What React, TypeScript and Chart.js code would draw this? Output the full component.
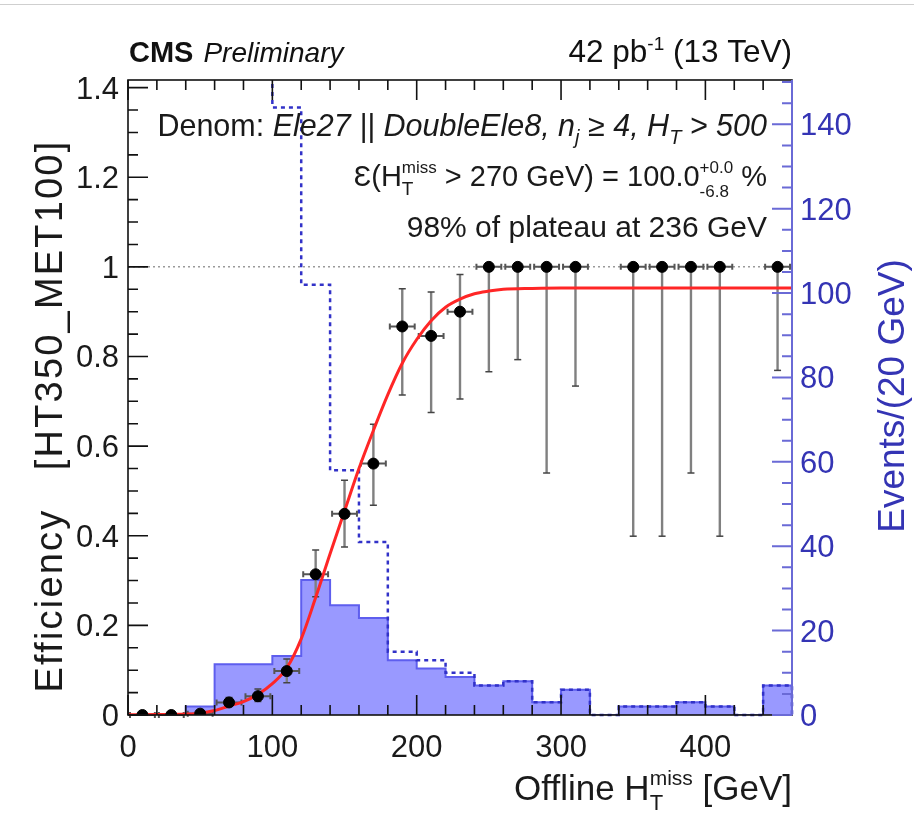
import React, { useEffect, useRef } from 'react';
import { Chart, registerables } from 'chart.js';

Chart.register(...registerables);

// ---------- data ----------
const binLowEdges = [0, 20, 40, 60, 80, 100, 120, 140, 160, 180, 200, 220, 240, 260, 280, 300, 320, 340, 360, 380, 400, 420, 440];
const binWidth = 20;
const xMax = 460;
// numerator (passing) events per bin – filled histogram
const passCounts = [0, 0, 2, 12, 12, 14, 32, 26, 23, 13, 11, 9, 7, 8, 3, 6, 0, 2, 2, 3, 2, 0, 7];
// denominator events per bin – dashed histogram (first bins run off the top)
const totalCounts = [640, 700, 600, 430, 286, 144, 102, 58, 41, 15, 13, 10, 7, 8, 3, 6, 0, 2, 2, 3, 2, 0, 7];
// efficiency per bin with asymmetric interval bounds (null = empty bin)
const effValues = [0, 0, 0.003, 0.028, 0.042, 0.098, 0.314, 0.449, 0.561, 0.867, 0.846, 0.9, 1, 1, 1, 1, null, 1, 1, 1, 1, null, 1];
const effLow = [0, 0, 0, 0.02, 0.03, 0.072, 0.264, 0.375, 0.468, 0.714, 0.675, 0.705, 0.766, 0.793, 0.54, 0.734, null, 0.399, 0.399, 0.54, 0.399, null, 0.769];
const effHigh = [0.004, 0.004, 0.008, 0.039, 0.058, 0.125, 0.368, 0.524, 0.649, 0.951, 0.944, 0.983, 1, 1, 1, 1, null, 1, 1, 1, 1, null, 1];
// fitted turn-on curve
const fitX = [0, 20, 40, 50, 60, 70, 80, 90, 100, 110, 120, 130, 140, 150, 160, 170, 180, 190, 200, 210, 220, 230, 240, 250, 260, 280, 300, 460];
const fitY = [0.0005, 0.001, 0.002, 0.004, 0.01, 0.02, 0.03, 0.046, 0.07, 0.105, 0.17, 0.262, 0.36, 0.455, 0.55, 0.635, 0.715, 0.785, 0.838, 0.88, 0.91, 0.928, 0.94, 0.946, 0.95, 0.952, 0.953, 0.953];

const leftMax = 1.417;
const rightMax = 150.5;
const leftTickValues = [0, 0.2, 0.4, 0.6, 0.8, 1, 1.2, 1.4];
const leftTickLabels = ['0', '0.2', '0.4', '0.6', '0.8', '1', '1.2', '1.4'];
const xTickValues = [0, 100, 200, 300, 400];
const xTickLabels = ['0', '100', '200', '300', '400'];
const rightTickValues = [0, 20, 40, 60, 80, 100, 120, 140];
const rightTickLabels = ['0', '20', '40', '60', '80', '100', '120', '140'];

// ---------- text ----------
const FONT = '"Liberation Sans", Arial, Helvetica, sans-serif';
type Seg = { t: string; size: number; style?: string; weight?: string; dy?: number; stack?: boolean; ls?: number };

const cmsText = 'CMS';
const prelimText = 'Preliminary';
const lumiSegs: Seg[] = [
  { t: '42 pb', size: 31.5 },
  { t: '-1', size: 19, dy: -12 },
  { t: ' (13 TeV)', size: 31.5 },
];
const denomSegs: Seg[] = [
  { t: 'Denom: ', size: 30.5 },
  { t: 'Ele27 || DoubleEle8, n', size: 30.5, style: 'italic' },
  { t: 'j', size: 20, style: 'italic', dy: 8 },
  { t: ' \u2265 4, H', size: 30.5, style: 'italic' },
  { t: 'T', size: 20, style: 'italic', dy: 8 },
  { t: ' > 500', size: 30.5, style: 'italic' },
];
const effSegs: Seg[] = [
  { t: '\u0190(H', size: 29 },
  { t: 'T', size: 19, dy: 9, stack: true },
  { t: 'miss', size: 17, dy: -13 },
  { t: ' > 270 GeV) = 100.0', size: 29 },
  { t: '+0.0', size: 17, dy: -13, stack: true },
  { t: '-6.8', size: 17, dy: 11 },
  { t: ' %', size: 29 },
];
const plateauSegs: Seg[] = [{ t: '98% of plateau at 236 GeV', size: 30 }];
const xTitleSegs: Seg[] = [
  { t: 'Offline H', size: 35 },
  { t: 'T', size: 22, dy: 10, stack: true },
  { t: 'miss', size: 21, dy: -15 },
  { t: ' [GeV]', size: 35 },
];
const yTitleSegs: Seg[] = [{ t: 'Efficiency   [HT350_MET100]', size: 38, ls: 2.2 }];
const y2TitleSegs: Seg[] = [{ t: 'Events/(20 GeV)', size: 37 }];

function fontOf(s: Seg) {
  return `${s.style || 'normal'} ${s.weight || 'normal'} ${s.size}px ${FONT}`;
}

function segWidth(ctx: CanvasRenderingContext2D, s: Seg) {
  ctx.font = fontOf(s);
  (ctx as any).letterSpacing = '0px';
  return ctx.measureText(s.t).width + (s.ls || 0) * s.t.length;
}

function drawRich(ctx: CanvasRenderingContext2D, segs: Seg[], x: number, y: number, align: string, color: string) {
  const placed: { s: Seg; x: number }[] = [];
  let cx = 0;
  for (let i = 0; i < segs.length; i++) {
    const s = segs[i];
    const w = segWidth(ctx, s);
    if (s.stack && i + 1 < segs.length) {
      const n = segs[i + 1];
      const w2 = segWidth(ctx, n);
      placed.push({ s, x: cx }, { s: n, x: cx });
      cx += Math.max(w, w2);
      i++;
    } else {
      placed.push({ s, x: cx });
      cx += w;
    }
  }
  const x0 = align === 'right' ? x - cx : align === 'center' ? x - cx / 2 : x;
  ctx.fillStyle = color;
  ctx.textAlign = 'left';
  ctx.textBaseline = 'alphabetic';
  for (const p of placed) {
    ctx.font = fontOf(p.s);
    (ctx as any).letterSpacing = `${p.s.ls || 0}px`;
    ctx.fillText(p.s.t, x0 + p.x, y + (p.s.dy || 0));
  }
  (ctx as any).letterSpacing = '0px';
}

// ---------- plugin: error bars, frame, axes, labels ----------
const rootStyle = {
  id: 'rootStyle',
  beforeDatasetDraw(chart: any, args: any) {
    if (args.index !== 3) return;
    const ctx: CanvasRenderingContext2D = chart.ctx;
    const xs = chart.scales.x;
    const ys = chart.scales.y;
    ctx.save();
    for (let i = 0; i < binLowEdges.length; i++) {
      const v = effValues[i];
      if (v === null) continue;
      const xc = xs.getPixelForValue(binLowEdges[i] + binWidth / 2);
      const xl = xs.getPixelForValue(binLowEdges[i]);
      const xr = xs.getPixelForValue(binLowEdges[i] + binWidth);
      const yv = ys.getPixelForValue(v);
      const yl = ys.getPixelForValue(effLow[i] as number);
      const yh = ys.getPixelForValue(effHigh[i] as number);
      ctx.strokeStyle = '#808080';
      ctx.lineWidth = 2.4;
      ctx.beginPath();
      ctx.moveTo(xc, yl);
      ctx.lineTo(xc, yh);
      ctx.stroke();
      ctx.strokeStyle = '#444';
      ctx.lineWidth = 1.5;
      ctx.beginPath();
      if (Math.abs(yl - yv) > 3) { ctx.moveTo(xc - 3.5, yl); ctx.lineTo(xc + 3.5, yl); }
      if (Math.abs(yh - yv) > 3) { ctx.moveTo(xc - 3.5, yh); ctx.lineTo(xc + 3.5, yh); }
      ctx.stroke();
      ctx.strokeStyle = '#555';
      ctx.lineWidth = 2;
      ctx.beginPath();
      ctx.moveTo(xl + 1, yv);
      ctx.lineTo(xr - 1, yv);
      ctx.moveTo(xl + 2, yv - 3);
      ctx.lineTo(xl + 2, yv + 3);
      ctx.moveTo(xr - 2, yv - 3);
      ctx.lineTo(xr - 2, yv + 3);
      ctx.stroke();
    }
    ctx.restore();
  },
  afterDraw(chart: any) {
    const ctx: CanvasRenderingContext2D = chart.ctx;
    const { left, right, top, bottom } = chart.chartArea;
    const xs = chart.scales.x;
    const ys = chart.scales.y;
    const y2 = chart.scales.y2;
    ctx.save();
    ctx.strokeStyle = '#cfcfcf';
    ctx.lineWidth = 1;
    ctx.beginPath();
    ctx.moveTo(0, 4.5);
    ctx.lineTo(914, 4.5);
    ctx.stroke();

    ctx.strokeStyle = '#111';
    ctx.lineWidth = 1.6;
    ctx.strokeRect(left, top, right - left, bottom - top);

    ctx.beginPath();
    for (let v = 0; v <= xMax; v += 20) {
      const px = xs.getPixelForValue(v);
      const len = v % 100 === 0 ? 20 : 10;
      ctx.moveTo(px, bottom);
      ctx.lineTo(px, bottom - len);
      ctx.moveTo(px, top);
      ctx.lineTo(px, top + len);
    }
    for (let k = 0; k <= 28; k++) {
      const v = k * 0.05;
      const py = ys.getPixelForValue(v);
      const len = k % 4 === 0 ? 20 : 10;
      ctx.moveTo(left, py);
      ctx.lineTo(left + len, py);
    }
    ctx.stroke();

    ctx.strokeStyle = '#6a6ad6';
    ctx.lineWidth = 2;
    ctx.beginPath();
    ctx.moveTo(right, top);
    ctx.lineTo(right, bottom);
    for (let v = 0; v <= 150; v += 5) {
      const py = y2.getPixelForValue(v);
      const len = v % 20 === 0 ? 20 : 10;
      ctx.moveTo(right, py);
      ctx.lineTo(right - len, py);
    }
    ctx.stroke();

    ctx.font = `31px ${FONT}`;
    ctx.fillStyle = '#1a1a1a';
    ctx.textBaseline = 'alphabetic';
    ctx.textAlign = 'right';
    leftTickValues.forEach((v, i) => {
      ctx.fillText(leftTickLabels[i], left - 9, ys.getPixelForValue(v) + 11);
    });
    ctx.textAlign = 'center';
    xTickValues.forEach((v, i) => {
      ctx.fillText(xTickLabels[i], xs.getPixelForValue(v), bottom + 42);
    });
    ctx.textAlign = 'left';
    ctx.fillStyle = '#3434b4';
    rightTickValues.forEach((v, i) => {
      ctx.fillText(rightTickLabels[i], right + 8, y2.getPixelForValue(v) + 11);
    });

    drawRich(ctx, xTitleSegs, right, bottom + 85, 'right', '#1a1a1a');
    ctx.save();
    ctx.translate(62, 416);
    ctx.rotate(-Math.PI / 2);
    drawRich(ctx, yTitleSegs, 0, 0, 'center', '#1a1a1a');
    ctx.restore();
    ctx.save();
    ctx.translate(904, 396);
    ctx.rotate(-Math.PI / 2);
    drawRich(ctx, y2TitleSegs, 0, 0, 'center', '#3434b4');
    ctx.restore();

    ctx.fillStyle = '#111';
    ctx.textAlign = 'left';
    ctx.font = `bold 29px ${FONT}`;
    ctx.fillText(cmsText, left + 1, 62);
    const cmsW = ctx.measureText(cmsText).width;
    ctx.font = `italic 28px ${FONT}`;
    ctx.fillText(prelimText, left + 1 + cmsW + 10, 62);
    drawRich(ctx, lumiSegs, right, 62, 'right', '#111');

    drawRich(ctx, denomSegs, 767, 136, 'right', '#1a1a1a');
    drawRich(ctx, effSegs, 767, 186, 'right', '#1a1a1a');
    drawRich(ctx, plateauSegs, 767, 237, 'right', '#1a1a1a');
    ctx.restore();
  },
};

function stepData(counts: number[]) {
  const pts = binLowEdges.map((e, i) => ({ x: e, y: counts[i] }));
  pts.push({ x: xMax, y: counts[counts.length - 1] });
  pts.push({ x: xMax, y: 0 });
  return pts;
}

export default function App() {
  const ref = useRef<HTMLCanvasElement>(null);
  useEffect(() => {
    const effPts = binLowEdges
      .map((e, i) => ({ x: e + binWidth / 2, y: effValues[i] }))
      .filter((p) => p.y !== null);
    const chart = new Chart(ref.current as HTMLCanvasElement, {
      type: 'line',
      data: {
        datasets: [
          {
            label: 'pass',
            data: stepData(passCounts),
            yAxisID: 'y2',
            stepped: 'before',
            borderColor: '#5e5eee',
            borderWidth: 2,
            backgroundColor: '#9999ff',
            fill: 'origin',
            pointRadius: 0,
            order: 6,
          },
          {
            label: 'total',
            data: stepData(totalCounts),
            yAxisID: 'y2',
            stepped: 'before',
            borderColor: '#3232c8',
            borderWidth: 2.5,
            borderDash: [4, 4],
            fill: false,
            pointRadius: 0,
            clip: { left: 5, top: 0, right: 5, bottom: 5 },
            order: 5,
          },
          {
            label: 'unity',
            data: [{ x: 0, y: 1 }, { x: xMax, y: 1 }],
            yAxisID: 'y',
            borderColor: '#9a9a9a',
            borderWidth: 1.5,
            borderDash: [2, 3],
            pointRadius: 0,
            fill: false,
            order: 4,
          },
          {
            label: 'fit',
            data: fitX.map((x, i) => ({ x, y: fitY[i] })),
            yAxisID: 'y',
            borderColor: '#ff2626',
            borderWidth: 3,
            cubicInterpolationMode: 'monotone',
            pointRadius: 0,
            fill: false,
            order: 2,
          },
          {
            label: 'eff',
            data: effPts as any,
            yAxisID: 'y',
            showLine: false,
            pointRadius: 5.5,
            pointBackgroundColor: '#000',
            pointBorderColor: '#000',
            pointBorderWidth: 1,
            order: 1,
          },
        ],
      } as any,
      options: {
        responsive: false,
        maintainAspectRatio: false,
        animation: false,
        devicePixelRatio: 1,
        events: [],
        layout: { padding: { left: 128, right: 122, top: 80, bottom: 125 } },
        plugins: { legend: { display: false }, tooltip: { enabled: false } },
        scales: {
          x: { type: 'linear', min: 0, max: xMax, display: false },
          y: { type: 'linear', min: 0, max: leftMax, display: false },
          y2: { type: 'linear', min: 0, max: rightMax, display: false, position: 'right' },
        },
      } as any,
      plugins: [rootStyle as any],
    });
    return () => chart.destroy();
  }, []);
  return (
    <div style={{ position: 'absolute', left: 0, top: 0, width: 914, height: 840, background: '#fff' }}>
      <canvas ref={ref} width={914} height={840} style={{ display: 'block', width: 914, height: 840 }} />
    </div>
  );
}
